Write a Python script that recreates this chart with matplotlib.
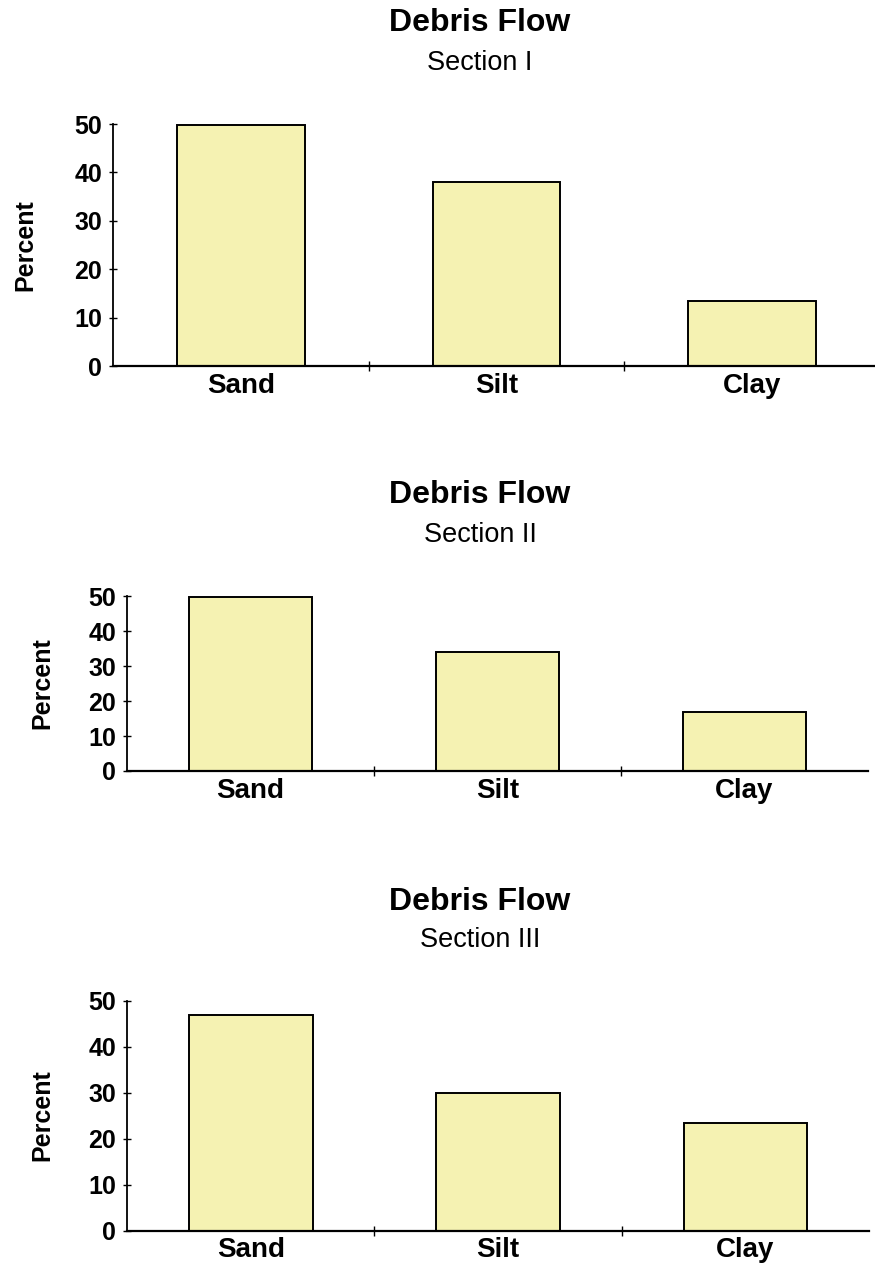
import matplotlib.pyplot as plt
import matplotlib.ticker as ticker
import numpy as np

plt.rcParams['font.family'] = ['Liberation Sans', 'DejaVu Sans']

categories = ['Sand', 'Silt', 'Clay']
sections = ['Section I', 'Section II', 'Section III']
section1 = [49.7, 38.0, 13.4]
section2 = [49.8, 34.0, 16.8]
section3 = [46.9, 30.0, 23.3]
yticks = [0, 10, 20, 30, 40, 50]

W, H = 875, 1270
fig = plt.figure(figsize=(W / 100, H / 100), dpi=100)

boxes = [(113, 880, 124, 366), (127, 868, 596, 771), (127, 869, 1000.5, 1230.5)]
title_y = [(23, 63), (495, 535), (902, 940)]
label_x = [25, 42, 42]

bar_color = '#f5f2b2'

for k, vals in enumerate([section1, section2, section3]):
    l, r, t, b = boxes[k]
    ax = fig.add_axes([l / W, 1 - b / H, (r - l) / W, (b - t) / H])
    x = np.arange(len(categories))
    ax.bar(x, vals, width=0.5, color=bar_color, edgecolor='black', linewidth=1.4, zorder=2)
    ax.set_xlim(-0.5, len(categories) - 0.5)
    ax.set_ylim(0, 50)
    ax.set_yticks(yticks)
    ax.set_xticks(x)
    ax.set_xticklabels(categories, fontsize=20, fontweight='bold')
    ax.xaxis.set_minor_locator(ticker.FixedLocator(x[:-1] + 0.5))
    ax.tick_params(axis='x', which='major', length=0, pad=5)
    ax.tick_params(axis='x', which='minor', direction='inout', length=7, width=1)
    ax.tick_params(axis='y', direction='inout', length=6, width=1, pad=5, labelsize=18)
    for lab in ax.get_yticklabels():
        lab.set_fontweight('bold')
    for s in ['top', 'right']:
        ax.spines[s].set_visible(False)
    ax.spines['left'].set_linewidth(1.3)
    ax.spines['bottom'].set_linewidth(1.6)

    fig.text(480 / W, 1 - title_y[k][0] / H, 'Debris Flow', ha='center', va='center',
             fontsize=23, fontweight='bold')
    fig.text(480 / W, 1 - title_y[k][1] / H, sections[k], ha='center', va='center',
             fontsize=19.5)
    fig.text(label_x[k] / W, 1 - (t + b) / 2 / H, 'Percent', rotation=90,
             ha='center', va='center', fontsize=18, fontweight='bold')

fig.savefig('out.png', dpi=100)
